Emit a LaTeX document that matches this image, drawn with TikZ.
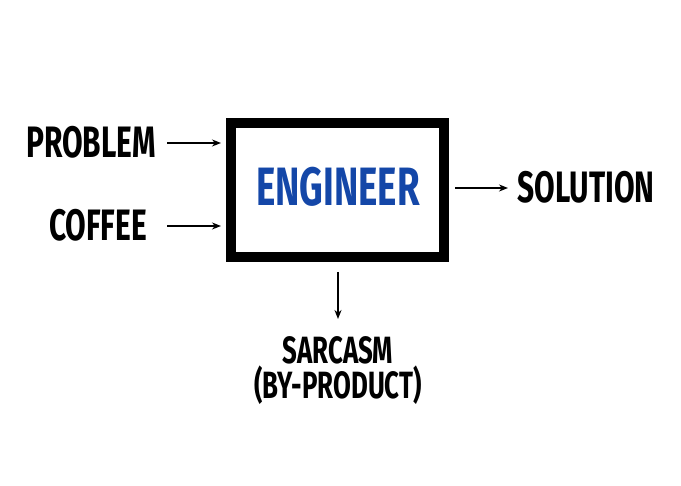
\documentclass[tikz,border=0pt]{standalone}
\usepackage{fontspec}
\usetikzlibrary{arrows.meta}
\setmainfont{Fira Sans}[BoldFont=* Bold]
\definecolor{eblue}{HTML}{1447A8}
\begin{document}
\begin{tikzpicture}[x=1pt,y=-1pt,
  lbl/.style={font=\fontsize{44}{44}\selectfont\bfseries, xscale=0.68, inner sep=0},
  arr/.style={-{Stealth[length=9pt,width=7pt]}, line width=1.6pt}]
\useasboundingbox (0,0) rectangle (681,486);
\node[draw, line width=10pt, minimum width=213pt, minimum height=134pt, inner sep=0] (eng) at (337.5,190) {};
\node[lbl, text=eblue, font=\fontsize{54}{54}\selectfont\bfseries] (t) at (338,187) {ENGINEER};
\node[lbl] (p) at (91,142) {PROBLEM};
\node[lbl] (c) at (98,225) {COFFEE};
\node[lbl] (s) at (586,187) {SOLUTION};
\node[lbl, font=\fontsize{38}{38}\selectfont\bfseries] (sa) at (338,350) {SARCASM};
\node[lbl, font=\fontsize{38}{38}\selectfont\bfseries] (bp) at (338,385) {(BY-PRODUCT)};
\coordinate (p1) at (167,143); \coordinate (p2) at (221,143);
\coordinate (c1) at (167,226); \coordinate (c2) at (221,226);
\coordinate (s1) at (455,188); \coordinate (s2) at (508,188);
\coordinate (d1) at (338,272); \coordinate (d2) at (338,319);
\draw[arr] (p1) -- (p2);
\draw[arr] (c1) -- (c2);
\draw[arr] (s1) -- (s2);
\draw[arr] (d1) -- (d2);
\end{tikzpicture}
\end{document}
